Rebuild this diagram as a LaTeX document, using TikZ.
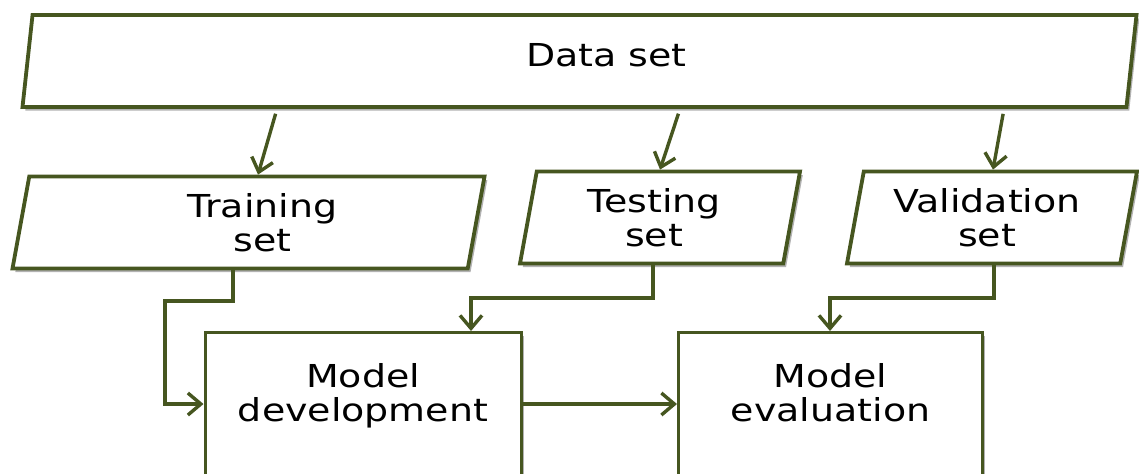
\documentclass[tikz,border=0pt]{standalone}
\usepackage{fontspec}
\setmainfont{DejaVu Sans}[FakeStretch=1.2]
\usepackage{tikz}
\usetikzlibrary{positioning}
\usetikzlibrary{shapes.geometric, arrows.meta, shadows}
\definecolor{linegreen}{RGB}{70,86,32}
\tikzstyle{arrow} = [line width=1.7pt, draw=linegreen, -{Straight Barb[length=6.5pt,width=11pt,line width=1.7pt]}]
\tikzstyle{dataset} = [trapezium, trapezium left angle=74, trapezium right angle=106, trapezium stretches body, draw=linegreen, line width=1.9pt, fill=white, align=center, inner sep=0pt, minimum height=46pt, drop shadow={shadow xshift=1.4pt, shadow yshift=-1.8pt, fill=black, opacity=0.3}]
\tikzstyle{process} = [rectangle, draw=linegreen, line width=1.5pt, fill=white, minimum width=158pt, minimum height=90pt, anchor=north, drop shadow={shadow xshift=1.4pt, shadow yshift=-1.8pt, fill=black, opacity=0.3}]

\begin{document}
\begin{tikzpicture}[x=0.5pt, y=-0.5pt, every node/.style={font=\fontsize{15.8}{17}\selectfont}]
  \useasboundingbox (0,0) rectangle (1139,473);

  % Input data
  \node[dataset, minimum width=557pt, text depth=6pt] (data) at (579.5,61) {\hspace*{27pt}Data set};
  \node[dataset, minimum width=236pt] (train) at (248.5,222.5) {\hspace*{14pt}Training\\\hspace*{14pt}set};
  \node[dataset, minimum width=140pt] (test) at (660,217.5) {Testing\hspace*{6pt}\\set\hspace*{6pt}};
  \node[dataset, minimum width=145pt] (val) at (992,217.5) {Validation\hspace*{5pt}\\set\hspace*{5pt}};

  % Models
  \node[process] (dev) at (363,331) {};
  \node[align=center, anchor=north, inner sep=0pt, below=16pt of dev.north] (devtext) {Model\\development};
  \node[process, minimum width=152pt] (eval) at (830.5,331) {};
  \node[align=center, anchor=north, inner sep=0pt, below=16pt of eval.north] (evaltext) {Model\\evaluation};

  % Splitting the data set
  \draw[arrow, shorten <=2.5pt] (data.south -| 277,0) -- (train.north -| 258,0);
  \draw[arrow, shorten <=2.5pt] (data.south -| 680,0) -- (test.north -| 660,0);
  \draw[arrow, shorten <=2.5pt] (data.south -| 1004,0) -- (val.north -| 993,0);

  % Feeding the models
  \draw[arrow] (train.south -| 233,0) |- (165,301) |- (dev.west |- 0,404);
  \draw[arrow] (test.south -| 653,0) |- (471,298) -- (dev.north -| 471,0);
  \draw[arrow] (val.south -| 994,0) |- (830,298) -- (eval.north -| 830,0);
  \draw[arrow] (dev.east |- 0,404) -- (eval.west |- 0,404);
\end{tikzpicture}
\end{document}
